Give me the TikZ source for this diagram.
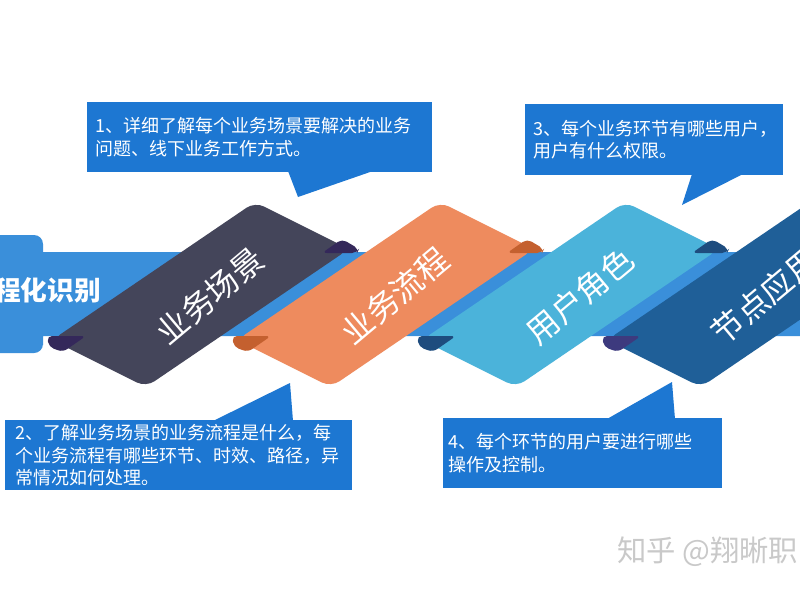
\documentclass[tikz,border=0pt]{standalone}
\usepackage{fontspec}
\newfontfamily\cjk{Noto Sans CJK SC}
\newdimen\pxu \pxu=0.75pt
\definecolor{bandc}{HTML}{3A8FDA}
\definecolor{boxc}{HTML}{1D77D2}
\definecolor{ribA}{HTML}{44455A}
\definecolor{curlA}{HTML}{34285A}
\definecolor{ribB}{HTML}{EE8B5E}
\definecolor{curlB}{HTML}{C4602F}
\definecolor{ribC}{HTML}{4BB3DA}
\definecolor{curlC}{HTML}{1E4C7E}
\definecolor{ribD}{HTML}{1F5F98}
\definecolor{curlD}{HTML}{3D3A7E}
\definecolor{wmark}{HTML}{C9C9C9}
\tikzset{
  callout/.style={fill=boxc, text=white, anchor=north west, align=left,
    inner ysep=0pt, font=\cjk\fontsize{13.5}{17}\selectfont},
  ribtext/.style={text=white, rotate=40, inner sep=0pt,
    font=\cjk\fontsize{24}{24}\selectfont},
  tail/.style={fill=boxc}
}
\begin{document}
\begin{tikzpicture}[x=0.75pt,y=-0.75pt]
\useasboundingbox (0,0) rectangle (800,600);
\clip (0,0) rectangle (800,600);
\fill[white] (0,0) rectangle (800,600);
% band with left arrow head
\fill[bandc, rounded corners=9\pxu] (-20,235) -- (43,235) -- (43,253) [sharp corners] -- (43,252) -- (810,252) -- (810,336) -- (43,336) [rounded corners=9\pxu] -- (43,336) -- (43,353) -- (-20,353) -- cycle;
\node[font=\cjk\bfseries\fontsize{20}{20}\selectfont, text=white, anchor=west, inner sep=0pt] (lbl) at (-6,290) {程化识别};
% ribbons
\foreach \dx/\fc/\cc/\tx [count=\i] in {0/ribA/curlA/业务场景, 185/ribB/curlB/业务流程, 370/ribC/curlC/用户角色, 555/ribD/curlD/节点应用}{
  \fill[\fc, rounded corners=10\pxu] (52+\dx,340) -- ++(94,47) -- ++(203,-138) -- ++(-94,-47) -- cycle;
  \fill[\cc, rounded corners=5\pxu] (322+\dx,253) -- (342+\dx,239) -- (359+\dx,249) -- (357+\dx,253) -- cycle;
  \fill[\cc, rounded corners=5\pxu] (47+\dx,336) -- (86+\dx,336) -- (63+\dx,352) -- (49+\dx,347) -- cycle;
  \node[ribtext] (r\i) at (210+\dx,296) {\tx};
}
% callouts
\node[callout, text width=329\pxu, inner xsep=8\pxu, minimum height=70\pxu] (c1) at (87,102) {1、详细了解每个业务场景要解决的业务\\问题、线下业务工作方式。};
\fill[tail] (288,171) -- (298,197) -- (373,171) -- cycle;
\node[callout, text width=242\pxu, inner xsep=8\pxu, minimum height=71\pxu] (c3) at (525,104) {3、每个业务环节有哪些用户，\\用户有什么权限。};
\fill[tail] (692,174) -- (682,205) -- (743,174) -- cycle;
\node[callout, text width=327\pxu, inner xsep=10\pxu, minimum height=70\pxu] (c2) at (5,420) {2、了解业务场景的业务流程是什么，每\\个业务流程有哪些环节、时效、路径，异\\常情况如何处理。};
\fill[tail] (213,421) -- (290,383) -- (293,421) -- cycle;
\node[callout, text width=269\pxu, inner xsep=5\pxu, minimum height=70\pxu] (c4) at (443,418) {4、每个环节的用户要进行哪些\\操作及控制。};
\fill[tail] (607,419) -- (672,382) -- (675,419) -- cycle;
% watermark
\node[font=\cjk\fontsize{22}{22}\selectfont, text=wmark, anchor=west, inner sep=0pt] (wm) at (617,552) {知乎 @翔晰职};
\end{tikzpicture}
\end{document}
